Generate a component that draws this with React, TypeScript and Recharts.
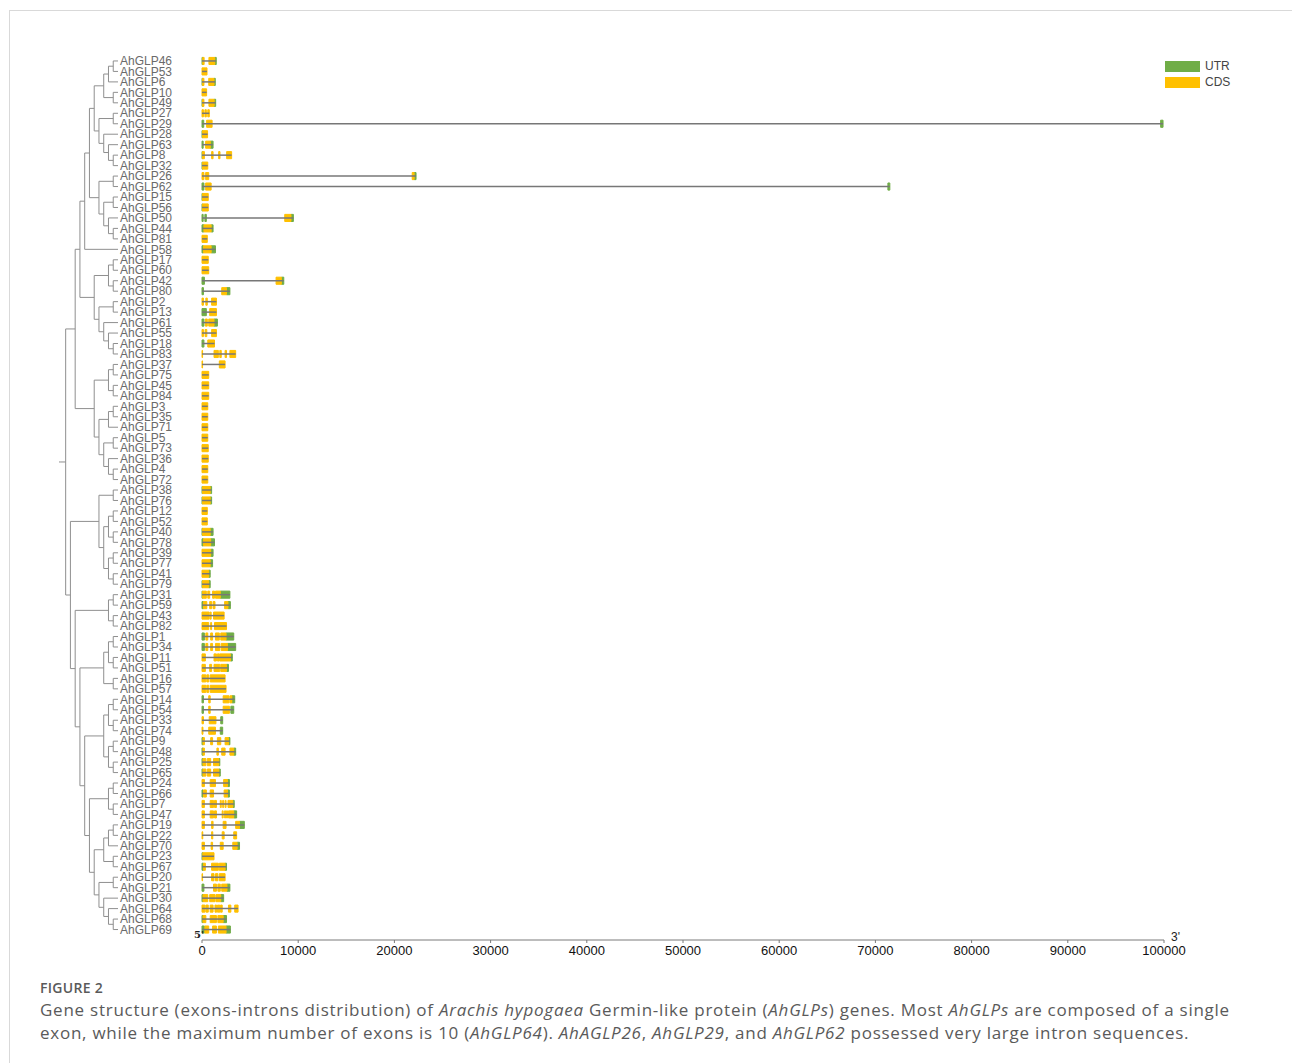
import React from 'react';
import { ComposedChart, XAxis, YAxis, ReferenceArea, ReferenceLine, Scatter } from 'recharts';

const COLORS = {
  utr: '#70AD47',
  cds: '#FFC000',
  intron: '#777777',
  tree: '#8f8f8f',
  label: '#6a6a6a',
  axis: '#7a7a7a',
  caption: '#5a5a5a',
};

type Span = [number, number];
interface Gene {
  id: string;
  utr: Span[];
  cds: Span[];
}

// Exon / UTR coordinates in bp, listed top to bottom in tree order
const genes: Gene[] = [
  { id: 'AhGLP46', utr: [[0, 80], [1330, 1480]], cds: [[80, 220], [720, 1330]] },
  { id: 'AhGLP53', utr: [], cds: [[0, 520]] },
  { id: 'AhGLP6', utr: [[0, 60], [1250, 1380]], cds: [[60, 200], [700, 1250]] },
  { id: 'AhGLP10', utr: [], cds: [[0, 480]] },
  { id: 'AhGLP49', utr: [[0, 60], [1260, 1420]], cds: [[60, 200], [720, 1260]] },
  { id: 'AhGLP27', utr: [], cds: [[0, 150], [300, 450], [600, 760]] },
  { id: 'AhGLP29', utr: [[0, 180], [99650, 99900]], cds: [[480, 1050]] },
  { id: 'AhGLP28', utr: [[0, 60]], cds: [[60, 580]] },
  { id: 'AhGLP63', utr: [[0, 120], [860, 1150]], cds: [[380, 860]] },
  { id: 'AhGLP8', utr: [[0, 60]], cds: [[60, 250], [1000, 1150], [1730, 1870], [2560, 3080]] },
  { id: 'AhGLP32', utr: [[0, 60]], cds: [[60, 600]] },
  { id: 'AhGLP26', utr: [[22050, 22250]], cds: [[0, 200], [380, 700], [21850, 22050]] },
  { id: 'AhGLP62', utr: [[0, 200], [71300, 71500]], cds: [[380, 950]] },
  { id: 'AhGLP15', utr: [[0, 60]], cds: [[60, 650]] },
  { id: 'AhGLP56', utr: [[0, 60]], cds: [[60, 650]] },
  { id: 'AhGLP50', utr: [[0, 120], [300, 450], [9250, 9500]], cds: [[8600, 9250]] },
  { id: 'AhGLP44', utr: [[0, 200], [950, 1150]], cds: [[200, 950]] },
  { id: 'AhGLP81', utr: [], cds: [[0, 550]] },
  { id: 'AhGLP58', utr: [[0, 150], [950, 1400]], cds: [[150, 950]] },
  { id: 'AhGLP17', utr: [], cds: [[0, 650]] },
  { id: 'AhGLP60', utr: [], cds: [[0, 700]] },
  { id: 'AhGLP42', utr: [[0, 250], [8250, 8500]], cds: [[7700, 8250]] },
  { id: 'AhGLP80', utr: [[0, 150], [2550, 2900]], cds: [[2050, 2550]] },
  { id: 'AhGLP2', utr: [], cds: [[0, 150], [400, 550], [1000, 1500]] },
  { id: 'AhGLP13', utr: [[0, 450]], cds: [[800, 1500]] },
  { id: 'AhGLP61', utr: [[0, 200], [1250, 1600]], cds: [[350, 550], [700, 1250]] },
  { id: 'AhGLP55', utr: [], cds: [[0, 150], [320, 500], [1000, 1500]] },
  { id: 'AhGLP18', utr: [[0, 200]], cds: [[600, 1300]] },
  { id: 'AhGLP83', utr: [], cds: [[0, 60], [1250, 1700], [1850, 2000], [2400, 2550], [2900, 3500]] },
  { id: 'AhGLP37', utr: [], cds: [[0, 60], [1800, 2400]] },
  { id: 'AhGLP75', utr: [], cds: [[0, 700]] },
  { id: 'AhGLP45', utr: [], cds: [[0, 700]] },
  { id: 'AhGLP84', utr: [], cds: [[0, 700]] },
  { id: 'AhGLP3', utr: [], cds: [[0, 600]] },
  { id: 'AhGLP35', utr: [], cds: [[0, 600]] },
  { id: 'AhGLP71', utr: [], cds: [[0, 600]] },
  { id: 'AhGLP5', utr: [], cds: [[0, 600]] },
  { id: 'AhGLP73', utr: [], cds: [[0, 650]] },
  { id: 'AhGLP36', utr: [], cds: [[0, 650]] },
  { id: 'AhGLP4', utr: [], cds: [[0, 600]] },
  { id: 'AhGLP72', utr: [], cds: [[0, 600]] },
  { id: 'AhGLP38', utr: [[0, 60], [850, 1000]], cds: [[60, 850]] },
  { id: 'AhGLP76', utr: [[0, 60], [850, 1000]], cds: [[60, 850]] },
  { id: 'AhGLP12', utr: [], cds: [[0, 550]] },
  { id: 'AhGLP52', utr: [], cds: [[0, 550]] },
  { id: 'AhGLP40', utr: [[0, 60], [850, 1150]], cds: [[60, 850]] },
  { id: 'AhGLP78', utr: [[0, 150], [900, 1300]], cds: [[150, 900]] },
  { id: 'AhGLP39', utr: [[900, 1150]], cds: [[0, 900]] },
  { id: 'AhGLP77', utr: [[850, 1100]], cds: [[0, 850]] },
  { id: 'AhGLP41', utr: [[700, 850]], cds: [[0, 700]] },
  { id: 'AhGLP79', utr: [[0, 60], [700, 850]], cds: [[60, 700]] },
  { id: 'AhGLP31', utr: [[0, 60], [1900, 2900]], cds: [[60, 450], [600, 800], [1100, 1300], [1400, 1900]] },
  { id: 'AhGLP59', utr: [[0, 150], [2700, 2950]], cds: [[150, 500], [800, 1000], [1150, 1350], [2350, 2700]] },
  { id: 'AhGLP43', utr: [], cds: [[0, 750], [850, 950], [1200, 2300]] },
  { id: 'AhGLP82', utr: [], cds: [[0, 700], [900, 1000], [1300, 2550]] },
  { id: 'AhGLP1', utr: [[0, 250], [2500, 3300]], cds: [[400, 600], [900, 1100], [1400, 1800], [1950, 2500]] },
  { id: 'AhGLP34', utr: [[0, 250], [2650, 3500]], cds: [[400, 600], [900, 1100], [1400, 1850], [2000, 2650]] },
  { id: 'AhGLP11', utr: [[2950, 3150]], cds: [[0, 350], [1250, 1500], [1600, 1800], [1850, 2950]] },
  { id: 'AhGLP51', utr: [[2550, 2750]], cds: [[0, 350], [800, 1000], [1250, 1850], [1950, 2550]] },
  { id: 'AhGLP16', utr: [], cds: [[0, 400], [500, 700], [850, 2400]] },
  { id: 'AhGLP57', utr: [], cds: [[0, 400], [500, 700], [850, 2500]] },
  { id: 'AhGLP14', utr: [[0, 150], [3100, 3400]], cds: [[700, 850], [2200, 2800], [2900, 3100]] },
  { id: 'AhGLP54', utr: [[0, 150], [3000, 3300]], cds: [[700, 850], [2200, 2850]] },
  { id: 'AhGLP33', utr: [[1950, 2150]], cds: [[0, 150], [750, 1450]] },
  { id: 'AhGLP74', utr: [[1900, 2150]], cds: [[0, 100], [700, 1400]] },
  { id: 'AhGLP9', utr: [[0, 100], [2750, 2900]], cds: [[100, 250], [900, 1100], [1600, 1950], [2400, 2750]] },
  { id: 'AhGLP48', utr: [[0, 100], [3300, 3500]], cds: [[100, 250], [1550, 1700], [2050, 2400], [2900, 3300]] },
  { id: 'AhGLP25', utr: [[0, 80], [1750, 1850]], cds: [[100, 400], [550, 900], [1200, 1750]] },
  { id: 'AhGLP65', utr: [[0, 100], [1750, 1900]], cds: [[100, 400], [550, 900], [1200, 1750]] },
  { id: 'AhGLP24', utr: [[2650, 2850]], cds: [[0, 250], [850, 1400], [2250, 2650]] },
  { id: 'AhGLP66', utr: [[0, 100], [2650, 2850]], cds: [[150, 450], [850, 1200], [2300, 2650]] },
  { id: 'AhGLP7', utr: [[3200, 3350]], cds: [[0, 250], [850, 1200], [1300, 1500], [1900, 2000], [2150, 2250], [2400, 2500], [2700, 3200]] },
  { id: 'AhGLP47', utr: [[3300, 3600]], cds: [[0, 250], [850, 1200], [1300, 1500], [2100, 2200], [2350, 2450], [2550, 2650], [2750, 3300]] },
  { id: 'AhGLP19', utr: [[3900, 4400]], cds: [[0, 250], [1000, 1150], [2200, 2500], [3500, 3900]] },
  { id: 'AhGLP22', utr: [], cds: [[0, 80], [1000, 1120], [2100, 2300], [3300, 3600]] },
  { id: 'AhGLP70', utr: [[3650, 3900]], cds: [[0, 250], [950, 1100], [1900, 2200], [3200, 3650]] },
  { id: 'AhGLP23', utr: [[0, 80]], cds: [[80, 1250]] },
  { id: 'AhGLP67', utr: [[0, 150], [2400, 2550]], cds: [[150, 350], [1000, 1700], [1800, 2400]] },
  { id: 'AhGLP20', utr: [], cds: [[0, 60], [1000, 1250], [1400, 1650], [1800, 2400]] },
  { id: 'AhGLP21', utr: [[0, 200], [2600, 2900]], cds: [[1200, 1500], [1650, 1900], [2050, 2600]] },
  { id: 'AhGLP30', utr: [[0, 80], [1950, 2250]], cds: [[100, 600], [800, 1350], [1450, 1950]] },
  { id: 'AhGLP64', utr: [], cds: [[0, 300], [400, 650], [850, 1150], [1350, 1450], [1500, 1600], [1650, 1750], [1800, 1900], [1950, 2100], [2750, 3000], [3400, 3750]] },
  { id: 'AhGLP68', utr: [[0, 80], [2200, 2550]], cds: [[100, 400], [850, 1500], [1650, 2200]] },
  { id: 'AhGLP69', utr: [[0, 250], [2500, 2950]], cds: [[300, 700], [1100, 1500], [1700, 2500]] },
];

// Neighbour-joining topology, leaf numbers are AhGLP ids
const newick =
  '((((((((((46,53),6),(10,49)),((27,29),(28,(63,(8,32))))),((26,62),((15,56),(50,(44,81))))),58),' +
  '(((17,60),(42,80)),((2,13),(61,(55,(18,83)))))),' +
  '(((37,75),(45,84)),(((3,35),71),((5,73),(36,(4,72)))))),' +
  '(((38,76),(((12,52),(40,78)),((39,77),(41,79)))),' +
  '(((31,59),(43,82)),((((1,34),(11,51)),(16,57)),((((14,54),(33,74)),((9,48),(25,65))),' +
  '(((24,66),(7,47)),((((19,22),70),(23,67)),((20,21),(30,(64,(68,69)))))))))))';

const xTicks = [0, 10000, 20000, 30000, 40000, 50000, 60000, 70000, 80000, 90000, 100000];

const ROWS = genes.length;
const Y_DOMAIN: [number, number] = [0, ROWS + 1];
const HALF = 0.34;

interface TreeNode {
  name?: string;
  children: TreeNode[];
  h: number;
  y: number;
}

function parseNewick(s: string): TreeNode {
  let i = 0;
  const read = (): TreeNode => {
    if (s[i] === '(') {
      i++;
      const children = [read()];
      while (s[i] === ',') {
        i++;
        children.push(read());
      }
      i++;
      return { children, h: 0, y: 0 };
    }
    let name = '';
    while (i < s.length && !',()'.includes(s[i])) name += s[i++];
    return { name: 'AhGLP' + name.trim(), children: [], h: 0, y: 0 };
  };
  return read();
}

const rowOf = new Map(genes.map((g, i) => [g.id, i + 1]));

function layout(n: TreeNode) {
  if (!n.children.length) {
    n.h = 0;
    n.y = rowOf.get(n.name!) ?? 0;
    return;
  }
  n.children.forEach(layout);
  n.h = Math.max(...n.children.map((c) => c.h)) + 1;
  n.y = (n.children[0].y + n.children[n.children.length - 1].y) / 2;
}

type Seg = [number, number, number, number];
function edges(n: TreeNode, out: Seg[]) {
  if (!n.children.length) return out;
  const first = n.children[0].y;
  const last = n.children[n.children.length - 1].y;
  out.push([n.h, first, n.h, last]);
  n.children.forEach((c) => {
    out.push([n.h, c.y, c.h, c.y]);
    edges(c, out);
  });
  return out;
}

const root = parseNewick(newick);
layout(root);
const ROOT_STUB = 0.4;
const treeSegs = edges(root, [[root.h + ROOT_STUB, root.y, root.h, root.y]]);

const geneLength = (g: Gene) => Math.max(...g.utr.concat(g.cds).map((s) => s[1]));

// one point per gene end, keeps the axes fed with data
const geneEnds = genes.map((g, i) => ({ x: geneLength(g), y: i + 1 }));
const treeLeaves = genes.map((_, i) => ({ x: 0, y: i + 1 }));

const FONT = '"Liberation Sans", Arial, sans-serif';
const CHART_H = 980;
const MARGIN_TOP = 50.5;
const MARGIN_BOTTOM = 40;
const LABEL_X = 120;

function GeneTick(props: any) {
  const { y, payload } = props;
  const g = genes[payload.value - 1];
  if (!g) return null;
  return (
    <text x={LABEL_X} y={y} dy={4.2} textAnchor="start" fontSize={12} fill={COLORS.label} fontFamily={FONT}>
      {g.id}
    </text>
  );
}

const NoShape = () => <g />;

export default function App() {
  return (
    <div style={{ position: 'absolute', left: 0, top: 0, width: 1292, height: 1063, overflow: 'hidden', background: '#fff', fontFamily: FONT }}>
      <div style={{ position: 'absolute', left: 9, top: 10, width: 1400, height: 1200, border: '1px solid #d9d9d9' }} />

      {/* phylogenetic tree */}
      <div style={{ position: 'absolute', left: 0, top: 0 }}>
        <ComposedChart width={130} height={CHART_H} data={treeLeaves} margin={{ top: MARGIN_TOP, bottom: MARGIN_BOTTOM, left: 59, right: 12 }}>
          <XAxis type="number" dataKey="x" domain={[0, root.h + ROOT_STUB]} reversed hide />
          <YAxis type="number" dataKey="y" domain={Y_DOMAIN} reversed hide />
          <Scatter data={treeLeaves} dataKey="y" shape={NoShape} isAnimationActive={false} />
          {treeSegs.map((s, i) => (
            <ReferenceLine
              key={i}
              segment={[{ x: s[0], y: s[1] }, { x: s[2], y: s[3] }]}
              stroke={COLORS.tree}
              strokeWidth={1}
              ifOverflow="visible"
            />
          ))}
        </ComposedChart>
      </div>

      {/* gene structures */}
      <div style={{ position: 'absolute', left: 0, top: 0 }}>
        <ComposedChart width={1292} height={CHART_H} data={geneEnds} margin={{ top: MARGIN_TOP, bottom: MARGIN_BOTTOM - 30, left: 120, right: 128 }}>
          <XAxis
            type="number"
            dataKey="x"
            domain={[0, 100000]}
            ticks={xTicks}
            interval={0}
            height={30}
            tickSize={3}
            tickMargin={3}
            tick={{ fontSize: 13, fill: '#111', fontFamily: FONT }}
            axisLine={{ stroke: COLORS.axis }}
            tickLine={{ stroke: COLORS.axis }}
          />
          <YAxis
            type="number"
            dataKey="y"
            domain={Y_DOMAIN}
            reversed
            ticks={genes.map((_, i) => i + 1)}
            interval={0}
            width={82}
            axisLine={false}
            tickLine={false}
            tick={<GeneTick />}
          />
          <Scatter data={geneEnds} dataKey="y" shape={NoShape} isAnimationActive={false} />
          {genes.map((g, i) => (
            <ReferenceLine
              key={'in' + g.id}
              segment={[{ x: 0, y: i + 1 }, { x: geneLength(g), y: i + 1 }]}
              stroke={COLORS.intron}
              strokeWidth={1.5}
              ifOverflow="visible"
            />
          ))}
          {genes.flatMap((g, i) =>
            g.utr.map((s, k) => (
              <ReferenceArea
                key={'u' + g.id + k}
                x1={s[0]}
                x2={s[1]}
                y1={i + 1 - HALF}
                y2={i + 1 + HALF}
                fill={COLORS.utr}
                fillOpacity={1}
                stroke={COLORS.utr}
                strokeWidth={1}
                ifOverflow="visible"
              />
            )),
          )}
          {genes.flatMap((g, i) =>
            g.cds.map((s, k) => (
              <ReferenceArea
                key={'c' + g.id + k}
                x1={s[0]}
                x2={s[1]}
                y1={i + 1 - HALF}
                y2={i + 1 + HALF}
                fill={COLORS.cds}
                fillOpacity={1}
                stroke={COLORS.cds}
                strokeWidth={1}
                ifOverflow="visible"
              />
            )),
          )}
        </ComposedChart>
      </div>

      <div style={{ position: 'absolute', left: 194, top: 929, fontFamily: '"DejaVu Serif", serif', fontWeight: 700, fontSize: 10, color: '#222' }}>5'</div>
      <div style={{ position: 'absolute', left: 1171, top: 930, fontSize: 12, color: '#222' }}>3'</div>

      {/* legend */}
      <div style={{ position: 'absolute', left: 1165, top: 61, fontSize: 12, color: '#444', lineHeight: '11px' }}>
        <div style={{ display: 'flex', alignItems: 'center', gap: 5, marginBottom: 5 }}>
          <span style={{ width: 35, height: 11, background: COLORS.utr, display: 'inline-block' }} />
          <span>UTR</span>
        </div>
        <div style={{ display: 'flex', alignItems: 'center', gap: 5 }}>
          <span style={{ width: 35, height: 11, background: COLORS.cds, display: 'inline-block' }} />
          <span>CDS</span>
        </div>
      </div>

      {/* caption */}
      <div style={{ position: 'absolute', left: 40, top: 978, fontFamily: '"Open Sans", sans-serif', fontSize: 14, letterSpacing: 0.3, fontWeight: 600, color: COLORS.caption }}>
        FIGURE 2
      </div>
      <div style={{ position: 'absolute', left: 40, top: 998, width: 1240, fontFamily: '"Open Sans", sans-serif', fontSize: 17, letterSpacing: 0.75, lineHeight: '23px', color: COLORS.caption, whiteSpace: 'nowrap' }}>
        Gene structure (exons-introns distribution) of <i>Arachis hypogaea</i> Germin-like protein (<i>AhGLPs</i>) genes. Most <i>AhGLPs</i> are composed of a single
        <br />
        exon, while the maximum number of exons is 10 (<i>AhGLP64</i>). <i>AhAGLP26</i>, <i>AhGLP29</i>, and <i>AhGLP62</i> possessed very large intron sequences.
      </div>
    </div>
  );
}
